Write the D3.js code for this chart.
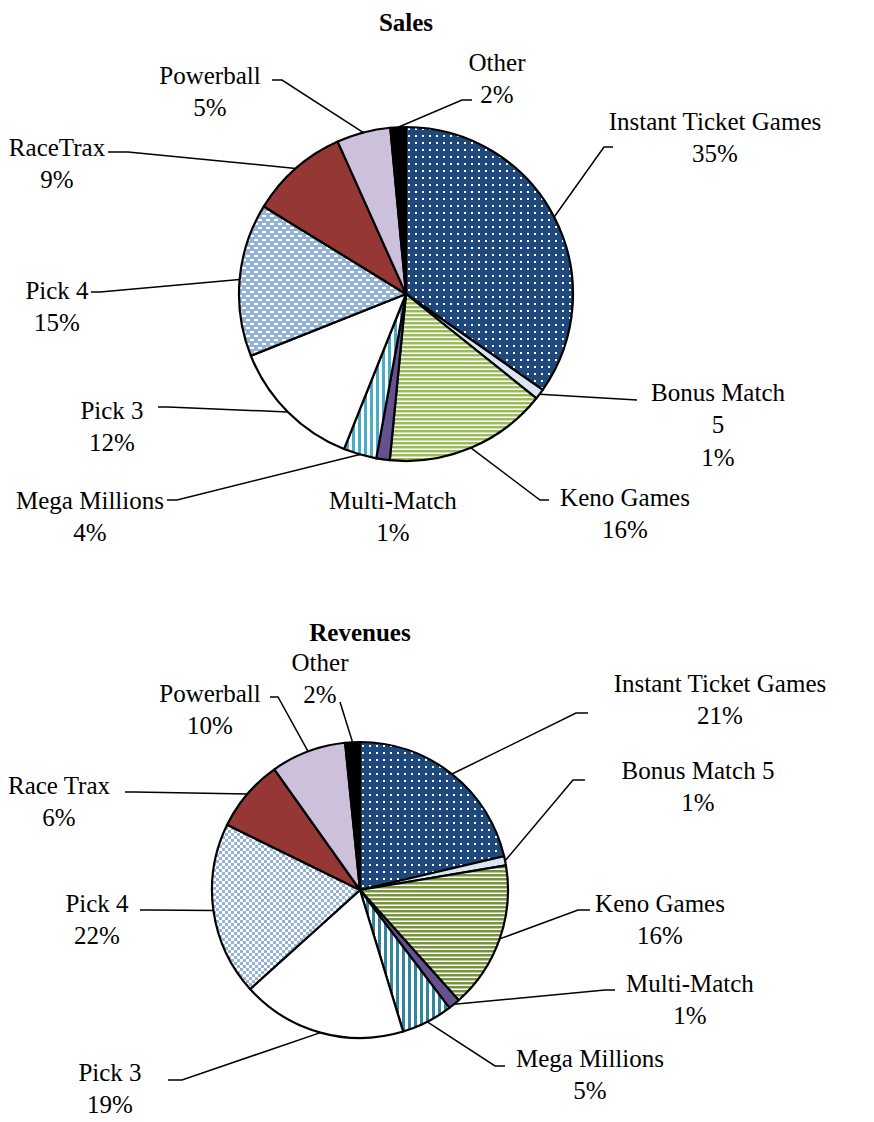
<!DOCTYPE html>
<html>
<head>
<meta charset="utf-8">
<script src="https://cdn.jsdelivr.net/npm/d3@7"></script>
<style>
  body { margin: 0; background: #fff; }
  text { font-family: "Liberation Serif", "Times New Roman", serif; font-size: 25px; fill: #000; }
  .title { font-weight: bold; }
</style>
</head>
<body>
<div id="chart"></div>
<script>
// data (slice sizes from the picture, labels as printed)
const salesCategories = ["Instant Ticket Games", "Bonus Match 5", "Keno Games", "Multi-Match", "Mega Millions",
                         "Pick 3", "Pick 4", "RaceTrax", "Powerball", "Other"]
const salesValues = [34.7, 1.0, 15.8, 1.3, 3.2, 12.9, 14.8, 9.5, 5.2, 1.5]
const salesLabelText = ["Instant Ticket Games", "Bonus Match|5", "Keno Games", "Multi-Match", "Mega Millions",
                        "Pick 3", "Pick 4", "RaceTrax", "Powerball", "Other"]
const salesPercents = ["35%", "1%", "16%", "1%", "4%", "12%", "15%", "9%", "5%", "2%"]

const revenueCategories = ["Instant Ticket Games", "Bonus Match 5", "Keno Games", "Multi-Match", "Mega Millions",
                           "Pick 3", "Pick 4", "Race Trax", "Powerball", "Other"]
const revenueValues = [21.3, 1.0, 16.0, 1.3, 5.6, 18.0, 18.9, 7.9, 8.2, 1.6]
const revenueLabelText = ["Instant Ticket Games", "Bonus Match 5", "Keno Games", "Multi-Match", "Mega Millions",
                          "Pick 3", "Pick 4", "Race Trax", "Powerball", "Other"]
const revenuePercents = ["21%", "1%", "16%", "1%", "5%", "19%", "22%", "6%", "10%", "2%"]

// layout: label centre (x, y of first line), leader elbow (ex, ey) and end of the short tick (hx)
const salesLayout = {
  title: "Sales", tx: 406, ty: 22, cx: 406, cy: 294, r: 167,
  fills: ["url(#dotsS)", "#DBE5F1", "url(#stripesS)", "#65518E", "url(#vstripesS)",
          "#FFFFFF", "url(#dashS)", "#953735", "#CCC0DA", "#000000"],
  labels: [
    { x: 715, y: 121, ex: 604, ey: 147, hx: 613 },
    { x: 718, y: 392, ex: 637, ey: 400, hx: 637 },
    { x: 625, y: 497, ex: 540, ey: 500, hx: 549 },
    { x: 393, y: 500 },
    { x: 90, y: 500, ex: 177, ey: 500, hx: 167 },
    { x: 112, y: 410, ex: 168, ey: 407, hx: 158 },
    { x: 57, y: 290, ex: 100, ey: 292, hx: 91 },
    { x: 57, y: 147, ex: 128, ey: 152, hx: 108 },
    { x: 210, y: 75, ex: 282, ey: 80, hx: 272 },
    { x: 497, y: 62, ex: 462, ey: 100, hx: 472 }
  ]
}

const revenueLayout = {
  title: "Revenues", tx: 360, ty: 632, cx: 360, cy: 890, r: 148,
  fills: ["url(#dotsR)", "#DCE6F2", "url(#stripesR)", "#65518E", "url(#vstripesR)",
          "#FFFFFF", "url(#checkR)", "#953735", "#CCC0DA", "#000000"],
  labels: [
    { x: 720, y: 683, ex: 576, ey: 713, hx: 588 },
    { x: 698, y: 770, ex: 573, ey: 780, hx: 585 },
    { x: 660, y: 903, ex: 578, ey: 910, hx: 590 },
    { x: 690, y: 983, ex: 605, ey: 990, hx: 615 },
    { x: 590, y: 1058, ex: 495, ey: 1066, hx: 505 },
    { x: 110, y: 1072, ex: 182, ey: 1080, hx: 168 },
    { x: 97, y: 903, ex: 150, ey: 910, hx: 140 },
    { x: 59, y: 785, ex: 135, ey: 792, hx: 125 },
    { x: 210, y: 693, ex: 278, ey: 697, hx: 270 },
    { x: 320, y: 662, ex: 340, ey: 702, hx: 340 }
  ]
}

const width = 874, height = 1122
const lineH = 32.5

var svg = d3.select("#chart")
            .append("svg")
              .attr("width", width)
              .attr("height", height)

// Patterns
var defs = svg.append("defs")

function dots(id, bg) {
  var p = defs.append("pattern").attr("id", id).attr("patternUnits", "userSpaceOnUse")
              .attr("width", 7).attr("height", 7)
  p.append("rect").attr("width", 7).attr("height", 7).attr("fill", bg)
  p.append("rect").attr("x", 2).attr("y", 2).attr("width", 2).attr("height", 2).attr("fill", "#fff")
}
function hstripes(id, color) {
  var p = defs.append("pattern").attr("id", id).attr("patternUnits", "userSpaceOnUse")
              .attr("width", 4).attr("height", 4)
  p.append("rect").attr("width", 4).attr("height", 4).attr("fill", "#fff")
  p.append("rect").attr("width", 4).attr("height", 2.5).attr("fill", color)
}
function vstripes(id, color) {
  var p = defs.append("pattern").attr("id", id).attr("patternUnits", "userSpaceOnUse")
              .attr("width", 6).attr("height", 6)
  p.append("rect").attr("width", 6).attr("height", 6).attr("fill", "#fff")
  p.append("rect").attr("width", 3).attr("height", 6).attr("fill", color)
}
dots("dotsS", "#1F497D")
dots("dotsR", "#1F497D")
hstripes("stripesS", "#9BBB59")
hstripes("stripesR", "#77933C")
vstripes("vstripesS", "#4BACC6")
vstripes("vstripesR", "#31859C")

var dash = defs.append("pattern").attr("id", "dashS").attr("patternUnits", "userSpaceOnUse")
               .attr("width", 8).attr("height", 8)
dash.append("rect").attr("width", 8).attr("height", 8).attr("fill", "#95B3D7")
dash.append("rect").attr("x", 0).attr("y", 1).attr("width", 4).attr("height", 2).attr("fill", "#fff")
dash.append("rect").attr("x", 4).attr("y", 5).attr("width", 4).attr("height", 2).attr("fill", "#fff")

var check = defs.append("pattern").attr("id", "checkR").attr("patternUnits", "userSpaceOnUse")
                .attr("width", 6).attr("height", 6)
check.append("rect").attr("width", 6).attr("height", 6).attr("fill", "#fff")
check.append("rect").attr("width", 3).attr("height", 3).attr("fill", "#95B3D7")
check.append("rect").attr("x", 3).attr("y", 3).attr("width", 3).attr("height", 3).attr("fill", "#95B3D7")

function drawPie(categories, values, labelText, percents, layout) {
  var g = svg.append("g")

  g.append("text").attr("class", "title")
     .attr("x", layout.tx).attr("y", layout.ty)
     .attr("text-anchor", "middle").attr("dominant-baseline", "central")
     .text(layout.title)

  var pie = d3.pie().sort(null).value(d => d.value)
  var arcs = pie(categories.map((c, i) => ({ name: c, value: values[i], i: i })))

  var arc = d3.arc().innerRadius(0).outerRadius(layout.r)
  var edge = d3.arc().innerRadius(layout.r).outerRadius(layout.r)

  var pieG = g.append("g").attr("transform", "translate(" + layout.cx + "," + layout.cy + ")")

  pieG.selectAll("path").data(arcs).enter()
      .append("path")
        .attr("d", arc)
        .attr("fill", d => layout.fills[d.data.i])
        .attr("stroke", "#000")
        .attr("stroke-width", 2.2)
        .attr("stroke-linejoin", "round")

  // Leader lines
  arcs.forEach(d => {
    var lab = layout.labels[d.data.i]
    if (lab.ex === undefined) return
    var p = edge.centroid(d)
    var pts = [[layout.cx + p[0], layout.cy + p[1]], [lab.ex, lab.ey], [lab.hx, lab.ey]]
    g.append("path")
       .attr("d", d3.line()(pts))
       .attr("fill", "none")
       .attr("stroke", "#000")
       .attr("stroke-width", 1.5)
  })

  // Labels
  arcs.forEach(d => {
    var lab = layout.labels[d.data.i]
    var lines = labelText[d.data.i].split("|").concat([percents[d.data.i]])
    lines.forEach((t, k) => {
      g.append("text")
         .attr("x", lab.x)
         .attr("y", lab.y + k * lineH)
         .attr("text-anchor", "middle")
         .attr("dominant-baseline", "central")
         .text(t)
    })
  })
}

drawPie(salesCategories, salesValues, salesLabelText, salesPercents, salesLayout)
drawPie(revenueCategories, revenueValues, revenueLabelText, revenuePercents, revenueLayout)
</script>
</body>
</html>
